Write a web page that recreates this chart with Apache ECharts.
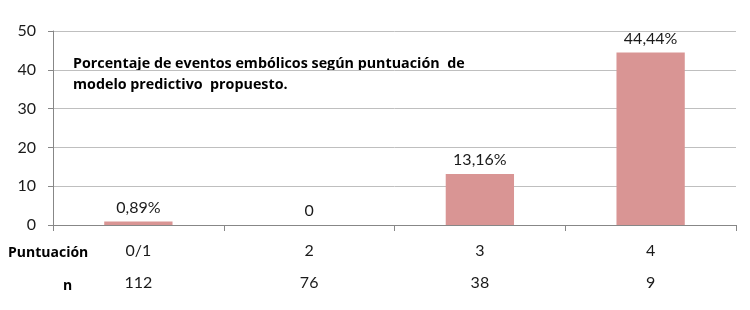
<!DOCTYPE html>
<html><head><meta charset="utf-8">
<script src="https://cdn.jsdelivr.net/npm/echarts@6/dist/echarts.min.js"></script>
<style>html,body{margin:0;padding:0;background:#fff}#c{width:750px;height:310px}</style>
</head><body><div id="c"></div>
<script>
var categories = ['0/1', '2', '3', '4'];
var nValues = ['112', '76', '38', '9'];
var percentages = [0.89, 0, 13.16, 44.44];
var valueLabels = ['0,89%', '0', '13,16%', '44,44%'];
var yTicks = [0, 10, 20, 30, 40, 50];
var titleLines = ['Porcentaje de eventos embólicos según puntuación  de', 'modelo predictivo  propuesto.'];
var rowLabels = ['Puntuación', 'n'];

var chart = echarts.init(document.getElementById('c'));
var font = 'Lato, "Open Sans", sans-serif';
var boldFont = '"Open Sans", Lato, sans-serif';
chart.setOption({
  animation: false,
  grid: {left: 53, right: 14, top: 31, bottom: 85},
  xAxis: {
    type: 'category', data: categories,
    axisLine: {lineStyle: {color: '#878787', width: 1}},
    axisTick: {show: true, length: 6, lineStyle: {color: '#878787'}},
    axisLabel: {
      margin: 10,
      formatter: function (v, i) { return '{a|' + v + '}\n{b|' + nValues[i] + '}'; },
      rich: {
        a: {fontFamily: font, fontSize: 16, color: '#1a1a1a', lineHeight: 32},
        b: {fontFamily: font, fontSize: 16, color: '#1a1a1a', lineHeight: 32}
      }
    }
  },
  yAxis: {
    type: 'value', min: yTicks[0], max: yTicks[yTicks.length - 1], interval: 10,
    axisLine: {show: true, lineStyle: {color: '#878787'}},
    axisTick: {show: true, length: 5, lineStyle: {color: '#878787'}},
    splitLine: {lineStyle: {color: '#BFBFBF', width: 1}},
    axisLabel: {fontFamily: font, fontSize: 16, color: '#1a1a1a', margin: 17}
  },
  series: [{
    type: 'bar', data: percentages, barWidth: '40%',
    itemStyle: {color: '#D99594'},
    label: {
      show: true, position: 'top', distance: 6,
      fontFamily: font, fontSize: 16, color: '#1a1a1a',
      formatter: function (p) { return valueLabels[p.dataIndex]; }
    }
  }],
  graphic: [
    {type: 'text', left: 73, top: 53, style: {text: titleLines.join('\n'), font: 'bold 14.3px ' + boldFont, fill: '#000', lineHeight: 21}},
    {type: 'text', left: 8, top: 246, style: {text: rowLabels[0], font: 'bold 14px ' + boldFont, fill: '#000'}},
    {type: 'text', left: 63, top: 279, style: {text: rowLabels[1], font: 'bold 14px ' + boldFont, fill: '#000'}}
  ]
});
</script></body></html>
